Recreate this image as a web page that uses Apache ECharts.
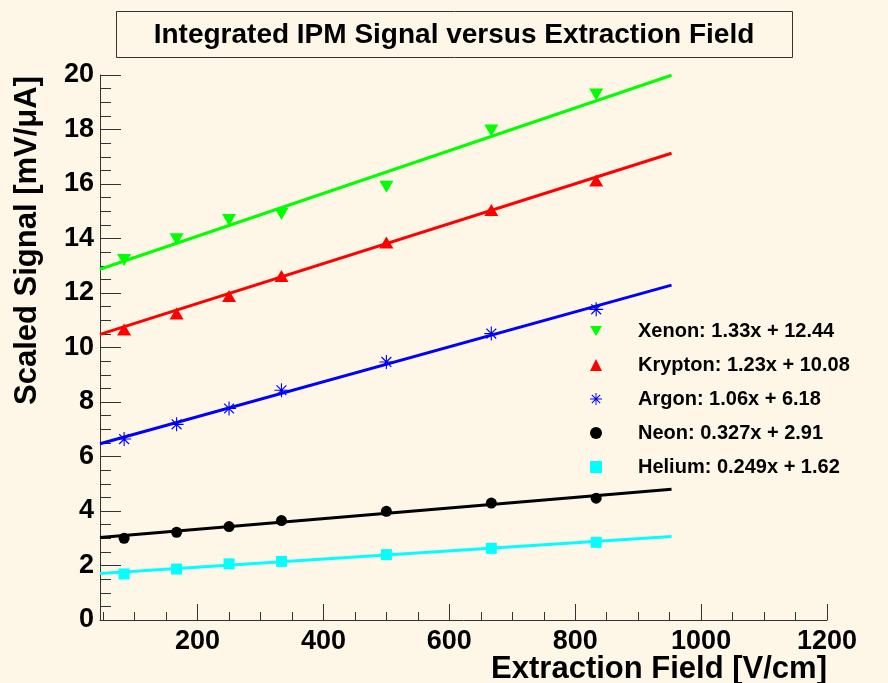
<!DOCTYPE html>
<html>
<head>
<meta charset="utf-8">
<title>Integrated IPM Signal versus Extraction Field</title>
<script src="https://cdn.jsdelivr.net/npm/echarts@6/dist/echarts.min.js"></script>
<style>
  html, body { margin: 0; padding: 0; background: #fef6e6; }
  #chart { width: 888px; height: 683px; }
</style>
</head>
<body>
<div id="chart"></div>
<script>
// field values of the measured points [V/cm]
var fieldValues = [83.3, 166.7, 250, 333.3, 500, 666.7, 833.3];

// scaled signal [mV/uA] per gas
var xenon = [13.21, 13.97, 14.68, 14.9, 15.9, 17.96, 19.28];
var krypton = [10.66, 11.25, 11.89, 12.62, 13.85, 15.05, 16.13];
var argon = [6.64, 7.18, 7.76, 8.43, 9.47, 10.51, 11.40];
var neon = [3.0, 3.22, 3.43, 3.65, 3.99, 4.29, 4.47];
var helium = [1.69, 1.87, 2.06, 2.15, 2.40, 2.63, 2.85];

// fitted straight lines, value at start and end of fitRange
var fitRange = [45, 953];
var xenonFit = [12.87, 19.99];
var kryptonFit = [10.48, 17.13];
var argonFit = [6.47, 12.29];
var neonFit = [3.03, 4.80];
var heliumFit = [1.71, 3.06];

var legendLabels = [
  "Xenon: 1.33x + 12.44",
  "Krypton: 1.23x + 10.08",
  "Argon: 1.06x + 6.18",
  "Neon: 0.327x + 2.91",
  "Helium: 0.249x + 1.62"
];

var xMajorTicks = [200, 400, 600, 800, 1000, 1200];
var xMinorTicks = [50, 100, 150, 250, 300, 350, 450, 500, 550, 650, 700, 750,
  850, 900, 950, 1050, 1100, 1150];

var FONT = "Liberation Sans";
var AXIS_COLOR = "#333333";
var BG = "#fef6e6";

// ROOT-like markers
var downTriangle = "path://M0,0 L20,0 L10,17 Z";
var asterisk = "path://M9.2,0 L10.8,0 L10.8,20 L9.2,20 Z " +
  "M0,9.2 L20,9.2 L20,10.8 L0,10.8 Z " +
  "M2.4,3.6 L3.6,2.4 L17.6,16.4 L16.4,17.6 Z " +
  "M16.4,2.4 L17.6,3.6 L3.6,17.6 L2.4,16.4 Z";

var gases = [
  { name: legendLabels[0], values: xenon, fit: xenonFit, color: "#00ff00", symbol: downTriangle, size: [14, 12] },
  { name: legendLabels[1], values: krypton, fit: kryptonFit, color: "#ff0000", symbol: "triangle", size: [14, 12] },
  { name: legendLabels[2], values: argon, fit: argonFit, color: "#0000ff", symbol: asterisk, size: 14 },
  { name: legendLabels[3], values: neon, fit: neonFit, color: "#000000", symbol: "circle", size: 11 },
  { name: legendLabels[4], values: helium, fit: heliumFit, color: "#00ffff", symbol: "rect", size: 11 }
];

function pairs(xs, ys) {
  return xs.map(function (x, i) { return [x, ys[i]]; });
}

var series = [];
gases.forEach(function (g) {
  series.push({
    name: g.name + " fit",
    type: "line",
    data: pairs(fitRange, g.fit),
    showSymbol: false,
    silent: true,
    z: 2,
    lineStyle: { color: g.color, width: 3 }
  });
});
gases.forEach(function (g) {
  series.push({
    name: g.name,
    type: "scatter",
    data: pairs(fieldValues, g.values),
    symbol: g.symbol,
    symbolSize: g.size,
    z: 3,
    itemStyle: { color: g.color, opacity: 1 }
  });
});

var chart = echarts.init(document.getElementById("chart"));

var option = {
  backgroundColor: BG,
  animation: false,
  textStyle: { fontFamily: FONT },
  graphic: [
    {
      type: "rect",
      shape: { x: 116.5, y: 11.5, width: 676, height: 46 },
      style: { fill: BG, stroke: AXIS_COLOR, lineWidth: 1 }
    },
    {
      type: "text",
      x: 454,
      y: 35,
      style: {
        text: "Integrated IPM Signal versus Extraction Field",
        fontFamily: FONT,
        fontWeight: "bold",
        fontSize: 28,
        fill: "#000",
        align: "center",
        verticalAlign: "middle"
      }
    }
  ],
  legend: {
    orient: "vertical",
    left: 585,
    top: 316,
    itemWidth: 12,
    itemHeight: 12,
    itemGap: 14,
    data: legendLabels,
    textStyle: {
      fontFamily: FONT,
      fontWeight: "bold",
      fontSize: 20,
      color: "#000",
      padding: [0, 0, 0, 31]
    }
  },
  grid: { left: 100, right: 61, top: 75, bottom: 63, containLabel: false, outerBoundsMode: "none" },
  xAxis: [
    {
      type: "value",
      min: 45,
      max: 1200,
      name: "Extraction Field [V/cm]",
      nameLocation: "end",
      nameGap: 0,
      nameMoveOverlap: false,
      nameTextStyle: {
        fontFamily: FONT,
        fontWeight: "bold",
        fontSize: 31,
        color: "#000",
        align: "right",
        verticalAlign: "top",
        padding: [34, 0, 0, 0]
      },
      splitLine: { show: false },
      axisLine: { show: true, lineStyle: { color: AXIS_COLOR, width: 1 } },
      axisTick: {
        show: true,
        inside: true,
        length: 16,
        customValues: xMajorTicks,
        lineStyle: { color: AXIS_COLOR }
      },
      axisLabel: {
        customValues: xMajorTicks,
        formatter: function (v) { return String(v); },
        margin: 8,
        fontFamily: FONT,
        fontWeight: "bold",
        fontSize: 27,
        color: "#000"
      }
    },
    {
      type: "value",
      min: 45,
      max: 1200,
      position: "bottom",
      splitLine: { show: false },
      axisLine: { show: false },
      axisTick: {
        show: true,
        inside: true,
        length: 8,
        customValues: xMinorTicks,
        lineStyle: { color: AXIS_COLOR }
      },
      axisLabel: { show: false }
    }
  ],
  yAxis: {
    type: "value",
    min: 0,
    max: 20,
    interval: 2,
    name: "Scaled Signal [mV/\u03bcA]",
    nameLocation: "middle",
    nameRotate: 90,
    nameGap: 73,
    nameMoveOverlap: false,
    nameTextStyle: {
      fontFamily: FONT,
      fontWeight: "bold",
      fontSize: 31,
      color: "#000",
      align: "center",
      verticalAlign: "middle",
      padding: [0, 0, 0, 214]
    },
    splitLine: { show: false },
    axisLine: { show: true, lineStyle: { color: AXIS_COLOR, width: 1 } },
    axisTick: { show: true, inside: true, length: 21, lineStyle: { color: AXIS_COLOR } },
    minorTick: { show: true, splitNumber: 4, length: 11, lineStyle: { color: AXIS_COLOR } },
    axisLabel: {
      margin: 6,
      fontFamily: FONT,
      fontWeight: "bold",
      fontSize: 27,
      color: "#000"
    }
  },
  series: series
};

chart.setOption(option);
</script>
</body>
</html>
